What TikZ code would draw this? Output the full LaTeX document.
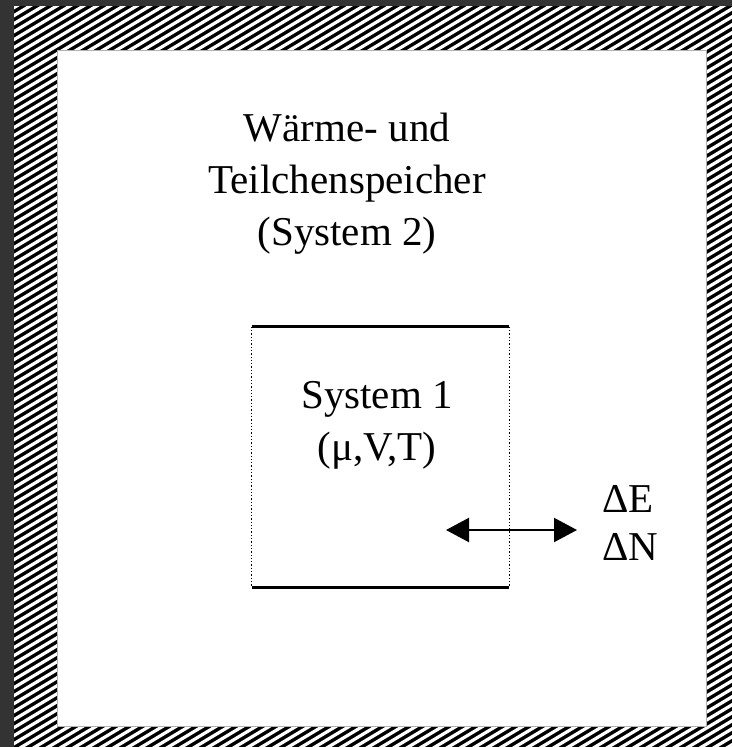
\documentclass[tikz,border=0pt]{standalone}
\usepackage{fontspec}
\setmainfont{Liberation Serif}
\usetikzlibrary{arrows.meta}
\definecolor{bgdark}{HTML}{333333}
\tikzset{
  lbl/.style={inner sep=0pt, font=\fontsize{41}{52}\selectfont, align=center},
  wall/.style={line width=3pt, line cap=butt},
  perm/.style={line width=1.3pt, dotted},
  flux/.style={line width=2.2pt, {Triangle[length=23pt,width=24pt]}-{Triangle[length=23pt,width=24pt]}}
}
\begin{document}
\begin{tikzpicture}[x=1pt,y=-1pt]
\useasboundingbox (0,0) rectangle (732,747);
\fill[bgdark] (0,0) rectangle (732,747);
% hatched reservoir wall
\begin{scope}
  \clip (14,6) rectangle (732,747);
  \fill[black] (14,6) rectangle (732,747);
  \foreach \c in {0,8,...,1200} \draw[white, line width=3.2pt] (0,\c) -- (1250,{\c-750});
\end{scope}
\fill[white, draw=gray!60, line width=1pt] (57,50) rectangle (706,726);
% title of system 2
\node[lbl] (res) at (347,184) {Wärme- und\\Teilchenspeicher\\(System 2)};
% system 1 box
\node[minimum width=257pt, minimum height=260pt, inner sep=0pt] (box) at (380.5,457) {};
\draw[wall] (box.north west) -- (box.north east);
\draw[wall] (box.south west) -- (box.south east);
\draw[perm] (box.north west) -- (box.south west);
\draw[perm] (box.north east) -- (box.south east);
\node[lbl] (sys) at (377,425) {System 1\\(μ,V,T)};
% exchange arrow
\coordinate (inA) at (446,530);
\coordinate (outA) at (577,530);
\draw[flux] (inA) -- (outA);
\node[inner sep=0pt, font=\fontsize{41}{48}\selectfont, anchor=base west] (dE) at (602,512) {ΔE};
\node[inner sep=0pt, font=\fontsize{41}{48}\selectfont, anchor=base west] (dN) at (602,560) {ΔN};
\end{tikzpicture}
\end{document}
